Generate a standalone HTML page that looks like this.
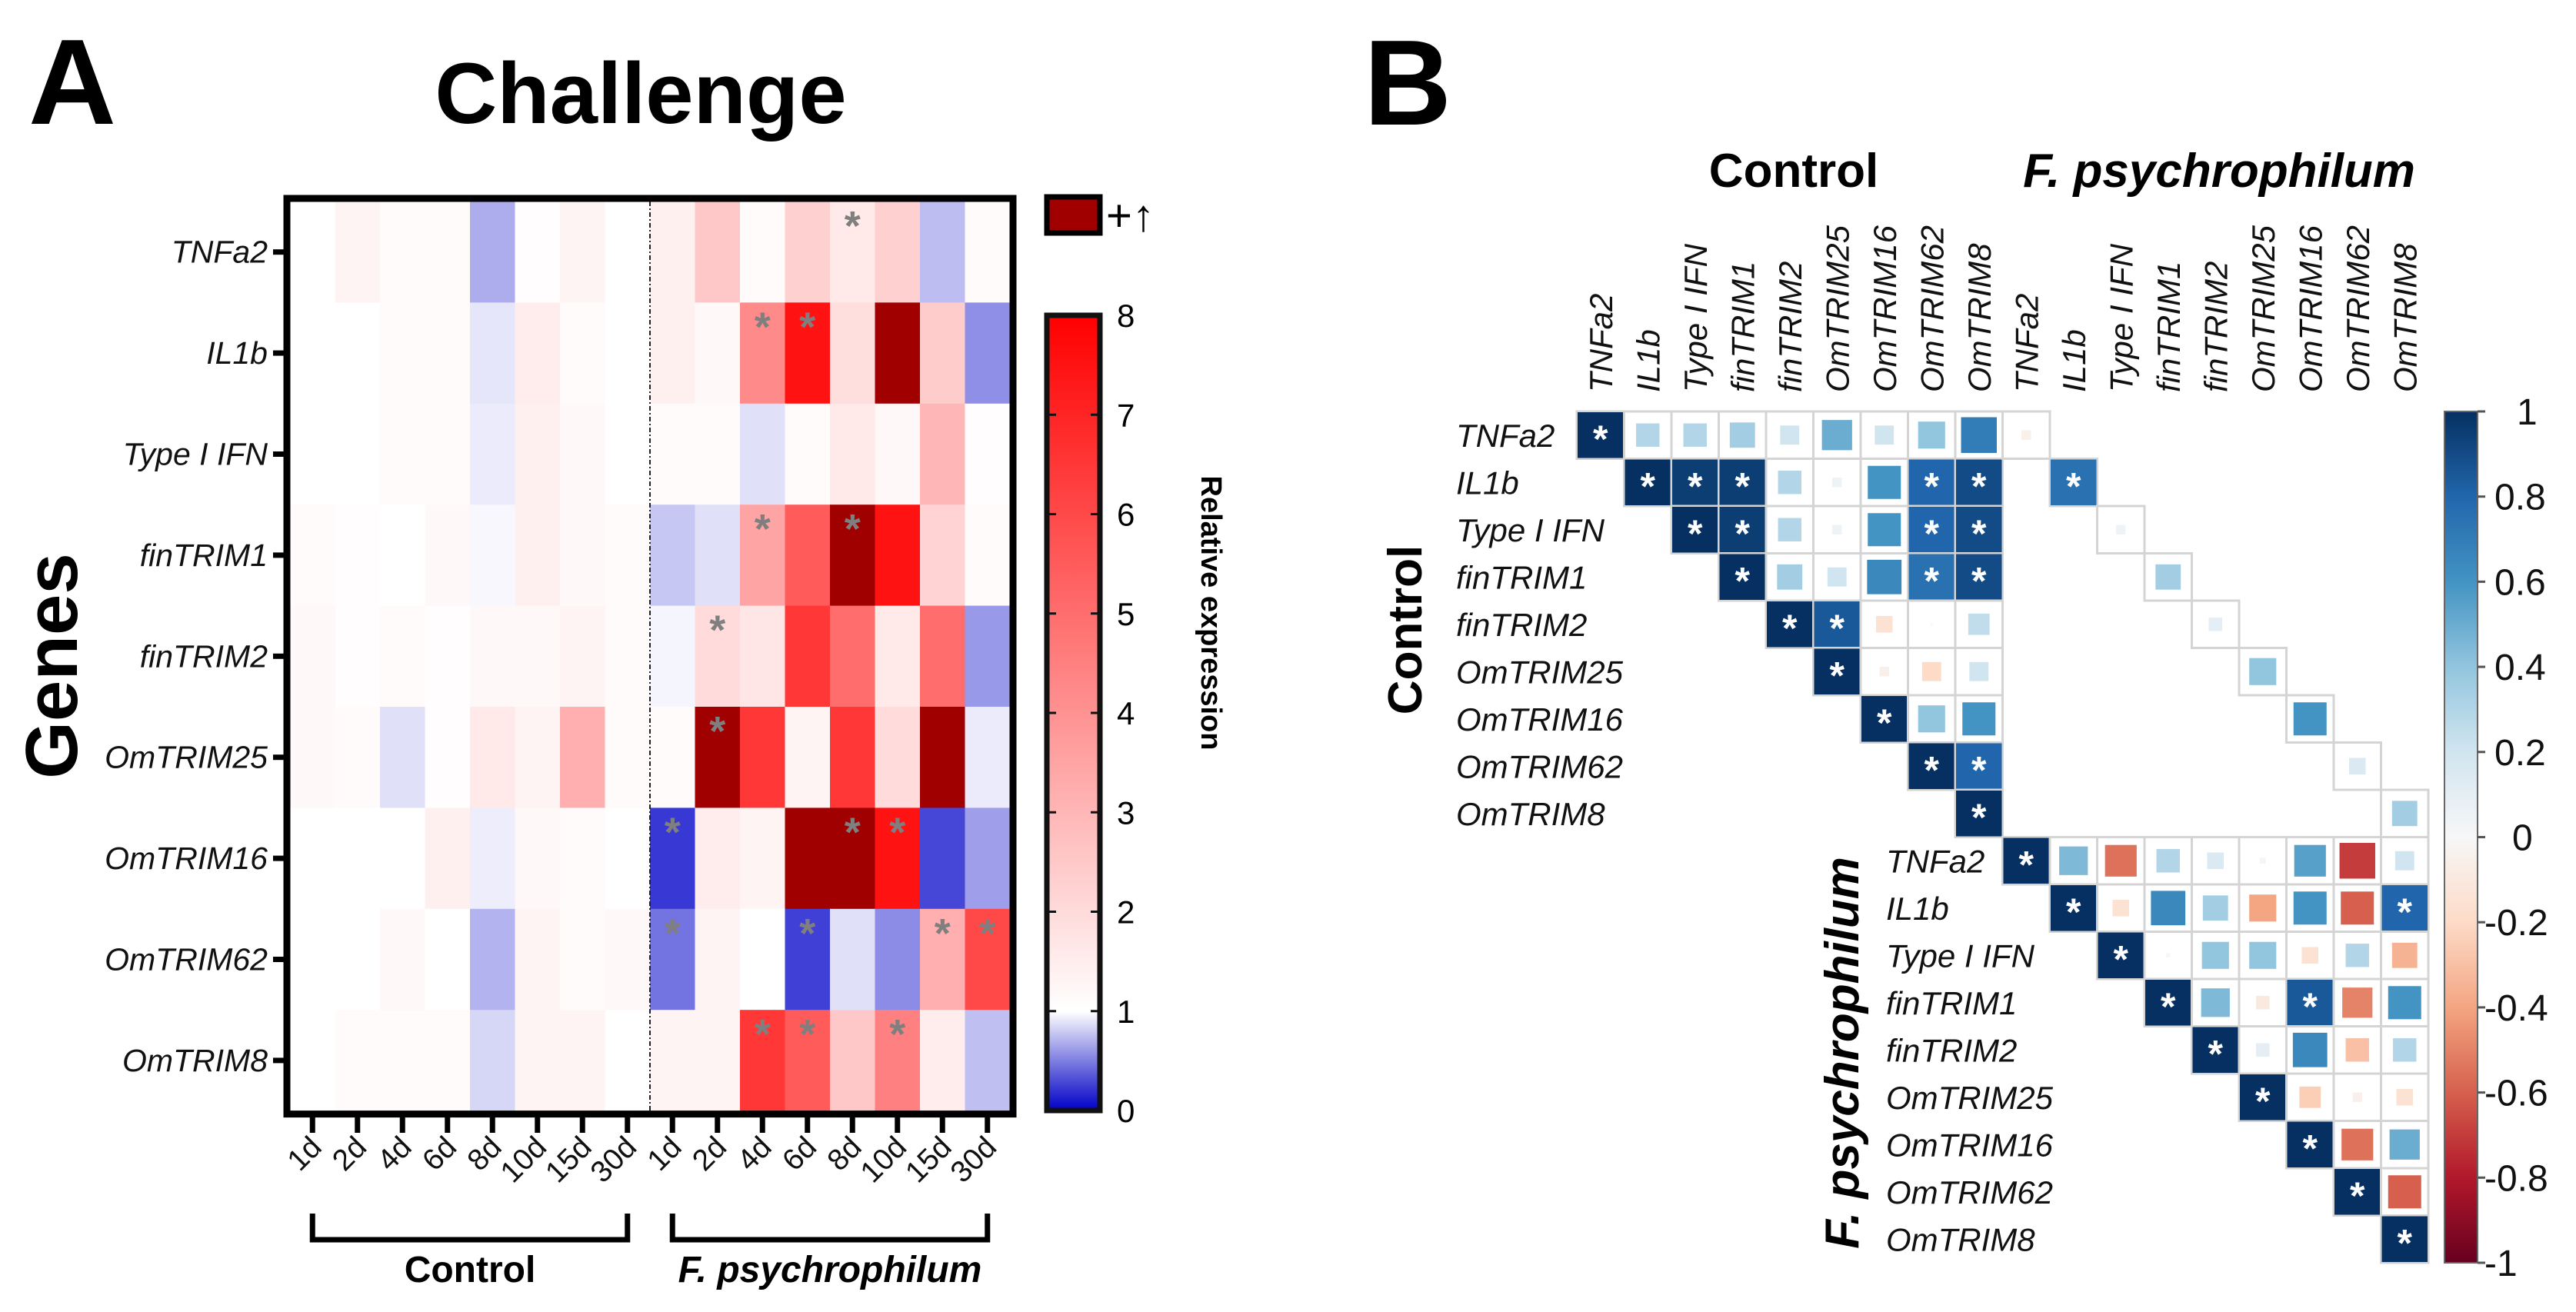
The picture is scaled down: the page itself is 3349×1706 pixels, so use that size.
<!DOCTYPE html>
<html><head><meta charset="utf-8"><style>
html,body{margin:0;padding:0;background:#fff;}
svg{display:block;font-family:"Liberation Sans",Arial,sans-serif;}
</style></head><body>
<svg id="fig" width="3349" height="1706" viewBox="0 0 3349 1706" xmlns="http://www.w3.org/2000/svg">
<g id="panelA"></g>
<g id="panelB"></g>
</svg>
<script>
// ---------- Panel A data ----------
const genes = ["TNFa2","IL1b","Type I IFN","finTRIM1","finTRIM2","OmTRIM25","OmTRIM16","OmTRIM62","OmTRIM8"];
const timepoints = ["1d","2d","4d","6d","8d","10d","15d","30d","1d","2d","4d","6d","8d","10d","15d","30d"];
const exprTNFa2   = [1.0,1.3,1.1,1.1,0.68,1.05,1.3,1.0, 1.4,2.5,1.1,2.3,1.6,2.3,0.74,1.1];
const exprIL1b    = [1.0,1.0,1.1,1.1,0.9,1.5,1.1,1.0, 1.4,1.2,4.2,7.5,1.9,9,2.4,0.56];
const exprIFN     = [1.0,1.0,1.1,1.1,0.92,1.4,1.2,1.0, 1.1,1.1,0.88,1.1,1.6,1.2,3.0,1.05];
const exprTRIM1   = [1.1,1.05,1.0,1.2,0.97,1.4,1.2,1.1, 0.78,0.88,3.5,5.5,9,7.5,2.2,1.1];
const exprTRIM2   = [1.2,1.05,1.1,1.05,1.2,1.2,1.3,1.1, 0.96,2.0,1.7,6.5,5.0,1.6,5.0,0.6];
const exprTRIM25  = [1.2,1.1,0.88,1.05,1.6,1.3,3.2,1.1, 1.1,9,6.5,1.3,6.5,2.0,9,0.92];
const exprTRIM16  = [1.0,1.0,1.0,1.4,0.93,1.2,1.1,1.0, 0.22,1.5,1.3,9,9,7.5,0.28,0.62];
const exprTRIM62  = [1.0,1.0,1.2,1.0,0.7,1.3,1.1,1.2, 0.45,1.3,1.0,0.25,0.88,0.55,3.2,6.0];
const exprTRIM8   = [1.0,1.1,1.1,1.1,0.84,1.3,1.3,1.0, 1.3,1.3,6.5,5.5,2.5,4.5,1.5,0.75];
const exprRows = [exprTNFa2,exprIL1b,exprIFN,exprTRIM1,exprTRIM2,exprTRIM25,exprTRIM16,exprTRIM62,exprTRIM8];
const starCells = [[0,12],[1,10],[1,11],[3,10],[3,12],[4,9],[5,9],[6,8],[6,12],[6,13],[7,8],[7,11],[7,14],[7,15],[8,10],[8,11],[8,13]];
const cbTicks = [0,1,2,3,4,5,6,7,8];

// ---------- Panel B data ----------
const corrGenes = ["TNFa2","IL1b","Type I IFN","finTRIM1","finTRIM2","OmTRIM25","OmTRIM16","OmTRIM62","OmTRIM8"];
const ctrlCorr = [
 [1,0.3,0.3,0.35,0.2,0.5,0.2,0.4,0.7],
 [1,0.95,0.95,0.3,0.05,0.6,0.8,0.9],
 [1,0.95,0.3,0.05,0.6,0.8,0.9],
 [1,0.35,0.2,0.65,0.75,0.9],
 [1,0.85,-0.15,0.0,0.25],
 [1,-0.05,-0.2,0.2],
 [1,0.4,0.6],
 [1,0.8],
 [1]];
const ctrlStars = [[0],[0,1,2,6,7],[0,1,5,6],[0,4,5],[0,1],[0],[0],[0,1],[0]];
const crossCorr = [-0.05,0.75,0.05,0.35,0.1,0.4,0.6,0.15,0.35];
const crossStars = [false,true,false,false,false,false,false,false,false];
const fpCorr = [
 [1,0.45,-0.55,0.3,0.15,0.02,0.55,-0.7,0.2],
 [1,-0.15,0.65,0.35,-0.4,0.6,-0.6,0.8],
 [1,0.01,0.4,0.4,-0.15,0.3,-0.35],
 [1,0.45,-0.1,0.85,-0.5,0.6],
 [1,0.1,0.65,-0.3,0.3],
 [1,-0.25,-0.05,-0.15],
 [1,-0.55,0.5],
 [1,-0.6],
 [1]];
const fpStars = [[0],[0,7],[0],[0,3],[0],[0],[0],[0],[0]];
const corrTicks = [1,0.8,0.6,0.4,0.2,0,-0.2,-0.4,-0.6,-0.8,-1];

const NS="http://www.w3.org/2000/svg";
function el(tag, attrs, parent, text){
  const e=document.createElementNS(NS,tag);
  for(const k in attrs) e.setAttribute(k,attrs[k]);
  if(text!==undefined) e.textContent=text;
  parent.appendChild(e); return e;
}
function mix(a,b,t){return [0,1,2].map(i=>Math.round(a[i]+(b[i]-a[i])*t));}
function rgb(c){return `rgb(${c[0]},${c[1]},${c[2]})`;}

// ===== Panel A =====
const A=document.getElementById('panelA');
const hx0=377, hy0=262, cw=58.5, rh=131.4;
const xA=i=>hx0+i*cw, yA=r=>hy0+r*rh;
function exprColor(v){
  if(v>8) return "#a00000";
  if(v<=1) return rgb(mix([0,0,200],[255,255,255],Math.max(0,v)));
  return rgb(mix([255,255,255],[255,0,0],(v-1)/7));
}
let t;
t=el('text',{x:37,y:161,'font-size':158,'font-weight':'bold'},A,'A');
 
t=el('text',{x:833,y:160,'font-size':112,'font-weight':'bold','text-anchor':'middle'},A,'Challenge');
 

const cellsG=el('g',{},A);
 
exprRows.forEach((row,r)=>row.forEach((v,c)=>{
  const rc=el('rect',{x:xA(c),y:yA(r),width:cw+0.6,height:rh+0.6,fill:exprColor(v)},cellsG);
   
}));
starCells.forEach(([r,c])=>{
  const s=el('text',{x:xA(c)+cw/2,y:yA(r)+50,'font-size':54,'font-weight':'bold',fill:'#7f7f7f','text-anchor':'middle'},A,'*');
   
});
let ln=el('line',{x1:xA(8),y1:hy0,x2:xA(8),y2:yA(9),stroke:'#222','stroke-width':2,'stroke-dasharray':'6,3,2,3'},A);
 
let fr=el('rect',{x:hx0-4,y:hy0-4,width:16*cw+8,height:9*rh+8,fill:'none',stroke:'#000','stroke-width':9},A);
 

genes.forEach((g,r)=>{
  const cy=yA(r)+rh/2;
  el('line',{x1:355,y1:cy,x2:370,y2:cy,stroke:'#000','stroke-width':7},A);
  const lt=el('text',{x:348,y:cy+14,'font-size':41,'font-style':'italic','text-anchor':'end',fill:'#111'},A,g);
   
});
timepoints.forEach((tp,c)=>{
  const cx=xA(c)+cw/2;
  el('line',{x1:cx,y1:1452,x2:cx,y2:1473,stroke:'#000','stroke-width':7},A);
  const lt=el('text',{x:cx+14,y:1494,'font-size':39,'text-anchor':'end',transform:`rotate(-45 ${cx+14} 1494)`,fill:'#111'},A,tp);
   
});
t=el('text',{x:70,y:836,'font-size':96,'font-weight':'bold','text-anchor':'middle',transform:'rotate(-90 100 836)'},A,'Genes');
 
[[0,7,'Control','normal'],[8,15,'F. psychrophilum','italic']].forEach(([a,b,lab,st])=>{
  const x1=xA(a)+cw/2, x2=xA(b)+cw/2;
  el('path',{d:`M${x1} 1578 V1612 H${x2} V1578`,fill:'none',stroke:'#000','stroke-width':7},A);
  const lt=el('text',{x:(x1+x2)/2,y:1667,'font-size':48,'font-weight':'bold','font-style':st,'text-anchor':'middle'},A,lab);
   
});
t=el('rect',{x:1361,y:256,width:69,height:47,fill:'#a00000',stroke:'#000','stroke-width':7},A);
 
t=el('text',{x:1438,y:300,'font-size':58},A,'+↑');
 
const defs=el('defs',{},A);
const gA=el('linearGradient',{id:'gradA',x1:0,y1:1,x2:0,y2:0},defs);
el('stop',{offset:'0','stop-color':'rgb(0,0,200)'},gA);
el('stop',{offset:'0.04','stop-color':'rgb(80,80,215)'},gA);
el('stop',{offset:'0.125','stop-color':'#fff'},gA);
el('stop',{offset:'1','stop-color':'#ff0000'},gA);
const cbTop=410, cbBot=1444, cbY=v=>cbBot-(v/8)*(cbBot-cbTop);
t=el('rect',{x:1361,y:cbTop,width:69,height:cbBot-cbTop,fill:'url(#gradA)',stroke:'#111','stroke-width':7},A);
 
cbTicks.forEach(v=>{
  const y=cbY(v);
  if(v>0&&v<8){el('line',{x1:1361,y1:y,x2:1373,y2:y,stroke:'#111','stroke-width':3},A);el('line',{x1:1418,y1:y,x2:1430,y2:y,stroke:'#111','stroke-width':3},A);}
  const lt=el('text',{x:1452,y:y+15,'font-size':42},A,String(v));
   
});
t=el('text',{x:1575,y:797,'font-size':38,'font-weight':'bold','text-anchor':'middle',transform:'rotate(90 1575 797)',dy:13},A,'Relative expression');
 

// ===== Panel B =====
const B=document.getElementById('panelB');
const bx0=2050, by0=535, cs=61.5;
const xB=i=>bx0+i*cs, yB=i=>by0+i*cs;
const rdbu=[[-1,[103,0,31]],[-0.8,[178,24,43]],[-0.6,[214,96,77]],[-0.4,[244,165,130]],[-0.2,[253,219,199]],[0,[247,247,247]],[0.2,[209,229,240]],[0.4,[146,197,222]],[0.6,[67,147,195]],[0.8,[33,102,172]],[1,[5,48,97]]];
function corrColor(v){
  for(let i=0;i<rdbu.length-1;i++){const [a,ca]=rdbu[i],[b,cb]=rdbu[i+1]; if(v>=a&&v<=b) return rgb(mix(ca,cb,(v-a)/(b-a)));}
  return rgb(rdbu[rdbu.length-1][1]);
}
t=el('text',{x:1773,y:162,'font-size':158,'font-weight':'bold'},B,'B');
 
t=el('text',{x:2332,y:243,'font-size':62,'font-weight':'bold','text-anchor':'middle'},B,'Control');
 
t=el('text',{x:2885,y:243,'font-size':62,'font-weight':'bold','font-style':'italic','text-anchor':'middle'},B,'F. psychrophilum');
 
t=el('text',{x:1848,y:819,'font-size':62,'font-weight':'bold','text-anchor':'middle',transform:'rotate(-90 1848 819)'},B,'Control');
 
t=el('text',{x:2416,y:1369,'font-size':62,'font-weight':'bold','font-style':'italic','text-anchor':'middle',transform:'rotate(-90 2416 1369)'},B,'F. psychrophilum');
 

const allCols=corrGenes.concat(corrGenes);
allCols.forEach((g,j)=>{
  const cx=xB(j)+cs/2+15, y=510;
  const lt=el('text',{x:cx,y:y,'font-size':42,'font-style':'italic',transform:`rotate(-90 ${cx} ${y})`,fill:'#111'},B,g);
   
});
corrGenes.forEach((g,i)=>{
  let lt=el('text',{x:1893,y:yB(i)+cs/2+15,'font-size':42,'font-style':'italic',fill:'#111'},B,g);
   
  lt=el('text',{x:2452,y:yB(i+9)+cs/2+15,'font-size':42,'font-style':'italic',fill:'#111'},B,g);
   
});
const cellG=el('g',{},B);
 
function corrCell(r,c,v,star){
  const x=xB(c), y=yB(r);
  const bg=el('rect',{x:x,y:y,width:cs,height:cs,fill:'#fff',stroke:'#d4d4d4','stroke-width':3},cellG);
   
  const side = star ? cs-2 : Math.max(3,(cs-6)*Math.sqrt(Math.abs(v)));
  const sq=el('rect',{x:x+(cs-side)/2,y:y+(cs-side)/2,width:side,height:side,fill:corrColor(v)},cellG);
   
  if(star){
    const s=el('text',{x:x+cs/2,y:y+cs/2+22,'font-size':50,'font-weight':'bold',fill:'#fff','text-anchor':'middle'},cellG,'*');
     
  }
}
ctrlCorr.forEach((row,i)=>row.forEach((v,k)=>corrCell(i,i+k,v,ctrlStars[i].includes(k))));
crossCorr.forEach((v,i)=>corrCell(i,i+9,v,crossStars[i]));
fpCorr.forEach((row,i)=>row.forEach((v,k)=>corrCell(i+9,i+9+k,v,fpStars[i].includes(k))));

const gB=el('linearGradient',{id:'gradB',x1:0,y1:0,x2:0,y2:1},defs);
rdbu.slice().reverse().forEach(([v,c])=>el('stop',{offset:String((1-v)/2),'stop-color':rgb(c)},gB));
const cbT=535, cbB=1642, cbYB=v=>cbT+(1-v)/2*(cbB-cbT);
t=el('rect',{x:3178,y:cbT,width:43,height:cbB-cbT,fill:'url(#gradB)',stroke:'#666','stroke-width':2},B);
 
corrTicks.forEach(v=>{
  const y=cbYB(v);
  el('line',{x1:3221,y1:y,x2:3231,y2:y,stroke:'#555','stroke-width':3},B);
  const lt=el('text',{x:(v===1?3272:(v===0?3266:(v<0?3230:3243))),y:y+17,'font-size':48,fill:'#111'},B,String(v));
   
});
</script>
</body></html>
